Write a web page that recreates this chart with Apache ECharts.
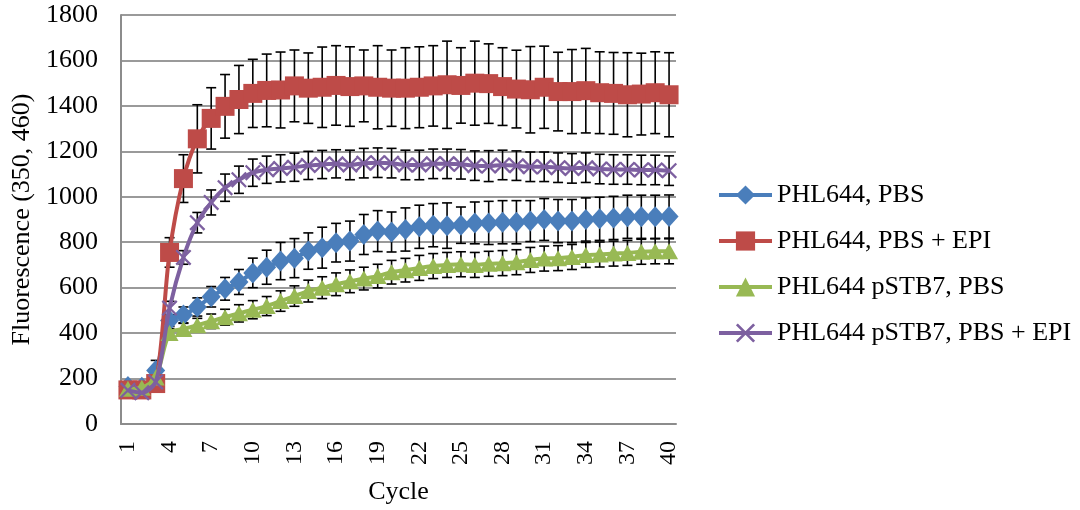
<!DOCTYPE html>
<html>
<head>
<meta charset="utf-8">
<script src="https://cdn.jsdelivr.net/npm/echarts@6/dist/echarts.min.js"></script>
<style>
html,body{margin:0;padding:0;background:#fff;}
#chart{width:1080px;height:510px;}
</style>
</head>
<body>
<div id="chart"></div>
<script>
var cycles = [];
for (var i = 1; i <= 40; i++) cycles.push(String(i));

var seriesNames = ['PHL644, PBS', 'PHL644, PBS + EPI', 'PHL644 pSTB7, PBS', 'PHL644 pSTB7, PBS + EPI'];

var pbs = [165,162,235,455,480,515,560,595,625,665,690,717,730,761,776,798,805,834,849,845,856,868,875,873,875,885,885,888,888,893,900,893,893,900,903,907,912,912,912,913];
var pbsErr = [10,10,45,25,35,40,45,50,55,65,75,82,86,80,90,85,88,88,90,88,95,95,95,100,80,92,95,95,95,90,92,95,95,95,95,95,95,95,95,95];

var pbsEpi = [150,150,178,755,1080,1255,1345,1398,1428,1455,1468,1470,1488,1478,1482,1490,1485,1488,1482,1478,1478,1482,1488,1493,1490,1500,1498,1485,1474,1471,1482,1463,1463,1467,1458,1455,1449,1452,1458,1449];
var pbsEpiErr = [15,15,20,65,105,150,135,140,150,150,160,167,158,155,177,175,175,158,183,168,178,178,177,192,166,185,175,171,171,190,181,173,185,186,180,180,185,180,180,185];

var stbPbs = [155,160,205,400,418,435,452,470,487,503,519,541,563,585,600,615,628,640,651,668,677,687,695,700,703,700,705,708,712,722,728,730,735,744,746,750,753,758,760,760];
var stbPbsErr = [10,10,20,20,25,30,32,35,38,40,42,45,45,48,48,50,50,50,52,52,52,55,55,55,55,55,55,55,55,55,55,55,55,55,55,55,55,55,55,55];

var stbPbsEpi = [148,138,185,510,733,886,975,1040,1075,1106,1119,1125,1130,1138,1142,1145,1140,1148,1150,1148,1140,1140,1145,1145,1143,1137,1135,1140,1137,1132,1132,1128,1125,1128,1122,1120,1120,1118,1118,1115];
var stbPbsEpiErr = [10,10,15,30,30,45,55,60,60,60,60,60,62,62,62,62,65,65,65,65,65,65,65,65,65,65,68,65,65,65,65,65,65,65,65,65,65,65,65,65];

var yTicks = {min: 0, max: 1800, interval: 200};

var colors = ['#4A7EBB', '#BE4B48', '#98B954', '#7D60A0'];
var FONT = '"Liberation Serif", "Times New Roman", serif';

function errData(vals, errs) {
  return vals.map(function (v, i) { return [i, v - errs[i], v + errs[i]]; });
}

function errSeries(vals, errs) {
  return {
    type: 'custom',
    silent: true,
    z: 1,
    encode: {x: 0, y: [1, 2]},
    data: errData(vals, errs),
    renderItem: function (params, api) {
      var x = api.value(0);
      var lo = api.coord([x, api.value(1)]);
      var hi = api.coord([x, api.value(2)]);
      var w = 5;
      var st = {stroke: '#000', lineWidth: 1.6};
      return {
        type: 'group',
        children: [
          {type: 'line', shape: {x1: lo[0], y1: hi[1], x2: lo[0], y2: lo[1]}, style: st},
          {type: 'line', shape: {x1: lo[0] - w, y1: hi[1], x2: lo[0] + w, y2: hi[1]}, style: st},
          {type: 'line', shape: {x1: lo[0] - w, y1: lo[1], x2: lo[0] + w, y2: lo[1]}, style: st}
        ]
      };
    }
  };
}

var xSymbol = 'path://M0,1 L1,0 L10,9 L9,10 Z M9,0 L10,1 L1,10 L0,9 Z';

function lineSeries(name, vals, color, symbol, size, z) {
  return {
    name: name,
    type: 'line',
    data: vals,
    smooth: 0.3,
    symbol: symbol,
    symbolSize: size,
    showAllSymbol: true,
    z: z,
    lineStyle: {color: color, width: 4},
    itemStyle: {color: color, opacity: 1},
    emphasis: {disabled: true}
  };
}

var chart = echarts.init(document.getElementById('chart'), null, {renderer: 'canvas'});
chart.setOption({
  animation: false,
  backgroundColor: '#fff',
  color: colors,
  grid: {left: 121, right: 404, top: 15, bottom: 85, containLabel: false},
  legend: {
    orient: 'vertical',
    left: 717,
    top: 182,
    padding: 0,
    itemWidth: 53,
    itemHeight: 24,
    itemGap: 20,
    lineStyle: {width: 4},
    textStyle: {fontFamily: FONT, fontSize: 26, lineHeight: 26, color: '#000', padding: [0, 0, 0, 0]},
    data: seriesNames
  },
  xAxis: {
    type: 'category',
    data: cycles,
    boundaryGap: true,
    name: 'Cycle',
    nameLocation: 'middle',
    nameGap: 55,
    nameTextStyle: {fontFamily: FONT, fontSize: 26, color: '#000'},
    axisLine: {show: true, lineStyle: {color: '#8c8c8c', width: 2}},
    axisTick: {show: false},
    axisLabel: {interval: 2, rotate: 90, margin: 17, fontFamily: FONT, fontSize: 24, color: '#000'},
    splitLine: {show: false}
  },
  yAxis: {
    type: 'value',
    min: yTicks.min,
    max: yTicks.max,
    interval: yTicks.interval,
    name: 'Fluorescence (350, 460)',
    nameLocation: 'middle',
    nameRotate: 90,
    nameGap: 86,
    nameTextStyle: {fontFamily: FONT, fontSize: 26, color: '#000'},
    axisLine: {show: true, lineStyle: {color: '#8c8c8c', width: 2}},
    axisTick: {show: false},
    axisLabel: {margin: 23, fontFamily: FONT, fontSize: 26, color: '#000', formatter: function (v) { return String(v); }},
    splitLine: {show: true, lineStyle: {color: '#9a9a9a', width: 2}}
  },
  series: [
    errSeries(pbs, pbsErr),
    errSeries(pbsEpi, pbsEpiErr),
    errSeries(stbPbs, stbPbsErr),
    errSeries(stbPbsEpi, stbPbsEpiErr),
    lineSeries(seriesNames[0], pbs, colors[0], 'diamond', [19, 21], 3),
    lineSeries(seriesNames[1], pbsEpi, colors[1], 'rect', 19, 4),
    lineSeries(seriesNames[2], stbPbs, colors[2], 'triangle', [18, 16], 5),
    lineSeries(seriesNames[3], stbPbsEpi, colors[3], xSymbol, 16, 6)
  ]
});
</script>
</body>
</html>
